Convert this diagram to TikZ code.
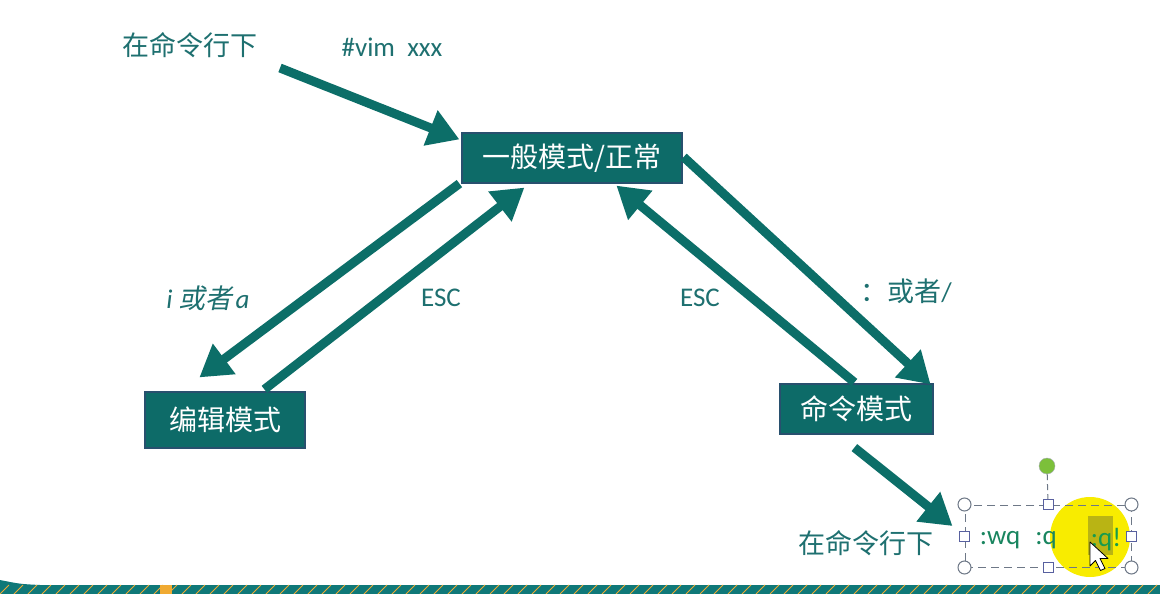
\documentclass[tikz,border=0pt]{standalone}
\usepackage{fontspec}
\setmainfont{Carlito}
\newfontfamily\cjk{Noto Sans CJK SC}
\newfontfamily\cjksl[FakeSlant=0.2]{Noto Sans CJK SC}
\usetikzlibrary{arrows.meta,calc}
\definecolor{tealbox}{RGB}{13,107,104}
\definecolor{tealedge}{RGB}{40,80,110}
\definecolor{tealarrow}{RGB}{12,110,104}
\definecolor{tealtxt}{RGB}{30,112,112}
\definecolor{selgray}{RGB}{110,120,135}
\definecolor{handlegreen}{RGB}{124,192,58}
\definecolor{hiyellow}{RGB}{248,236,0}
\definecolor{hiolive}{RGB}{185,180,20}
\definecolor{bandteal}{RGB}{15,120,120}
\definecolor{bandorange}{RGB}{240,170,50}
\begin{document}
\begin{tikzpicture}[x=1pt,y=-1pt,
  modebox/.style={fill=tealbox,draw=tealedge,line width=1.2pt,text=white,
    font=\cjk\fontsize{28}{32}\selectfont,inner sep=0pt},
  bigarrow/.style={draw=tealarrow,line width=9pt,
    -{Triangle[length=31pt,width=36pt]}},
  cjklbl/.style={text=tealtxt,font=\cjk\fontsize{27}{31}\selectfont,inner sep=0pt},
  latlbl/.style={text=tealtxt,font=\fontsize{27}{31}\selectfont,inner sep=0pt},
  cornerhandle/.style={circle,draw=selgray,fill=white,line width=1pt,minimum size=13pt,inner sep=0pt},
  sidehandle/.style={rectangle,draw=selgray!80!blue,fill=white,line width=1pt,minimum size=10pt,inner sep=0pt}
]
\useasboundingbox (0,0) rectangle (1160,594);
\fill[white] (0,0) rectangle (1160,594);

% bottom band
\fill[bandteal] (0,580) .. controls (20,584) .. (40,585) -- (1160,585) -- (1160,594) -- (0,594) -- cycle;
\foreach \xx in {0,14,...,1160}{
  \draw[bandorange,line width=1pt] (\xx,594) -- (\xx+9,585);
}
\fill[bandorange] (160,585) rectangle (172,594);

% mode boxes
\node[modebox,minimum width=220pt,minimum height=50pt] (gen) at (572,158) {一般模式/正常};
\node[modebox,minimum width=160pt,minimum height=56pt] (edit) at (225,420) {编辑模式};
\node[modebox,minimum width=153pt,minimum height=50pt] (cmd) at (856.5,409) {命令模式};

% labels
\node[cjklbl] (top) at (190,45) {在命令行下};
\node[latlbl] (vim) at (392,47) {\#vim\ \ xxx};
\node[latlbl] (ia) at (208,298) {\itshape i\ {\cjksl 或者}\kern3pt a};
\node[latlbl] (escl) at (441,298) {ESC};
\node[latlbl] (escr) at (700,298) {ESC};
\node[latlbl] (colon) at (906,291) {{\cjk ：或者}/};
\node[cjklbl] (bot) at (866,543) {在命令行下};

% highlight under the commands
\fill[hiyellow] (1090,537) circle (40pt);
\fill[hiolive] (1088,516) rectangle (1113,555);

% selection box
\node[draw=selgray,dashed,line width=1pt,dash pattern=on 8pt off 5pt,
  minimum width=166pt,minimum height=62pt,inner sep=0pt] (sel) at (1048,536) {};
\node[latlbl,text=tealtxt!85!green] (wq) at (1000,540) {:wq};
\node[latlbl,text=tealtxt!85!green] (q) at (1046,540) {:q};
\node[latlbl,text=tealtxt!70!green] (qx) at (1106,540) {:q!};

\node[circle,fill=handlegreen,draw=selgray!60,minimum size=16pt,inner sep=0pt] (rot) at (1047,466) {};
\draw[selgray,line width=1pt,dash pattern=on 6pt off 4pt] (rot) -- (sel.north);
\foreach \a in {north west,north east,south west,south east}{
  \node[cornerhandle] at (sel.\a) {};
}
\foreach \a in {north,south,west,east}{
  \node[sidehandle] at (sel.\a) {};
}

% mouse cursor
\coordinate (tip) at (1090,542);
\draw[black,fill=white,line width=0.8pt,line join=round]
  (tip) -- ++(0,24) -- ++(5.5,-5.5) -- ++(5,10) -- ++(4.5,-2) -- ++(-5,-10) -- ++(8,0) -- cycle;

% arrows
\coordinate (a1s) at (280,68);
\draw[bigarrow] (a1s) -- ($(gen.north west)+(-2,7)$);
\draw[bigarrow] ($(gen.south west)+(-2,0)$) -- ($(edit.north west)+(55,-14)$);
\draw[bigarrow] ($(edit.north west)+(120,-2)$) -- ($(gen.south west)+(63,4)$);
\draw[bigarrow] ($(cmd.north west)+(75,-1)$) -- ($(gen.south west)+(155,2)$);
\draw[bigarrow] ($(gen.east)+(1,-1)$) -- ($(cmd.north east)+(-3,1)$);
\draw[bigarrow] ($(cmd.south west)+(75,13)$) -- ($(sel.west)+(-12,-10)$);
\end{tikzpicture}
\end{document}
